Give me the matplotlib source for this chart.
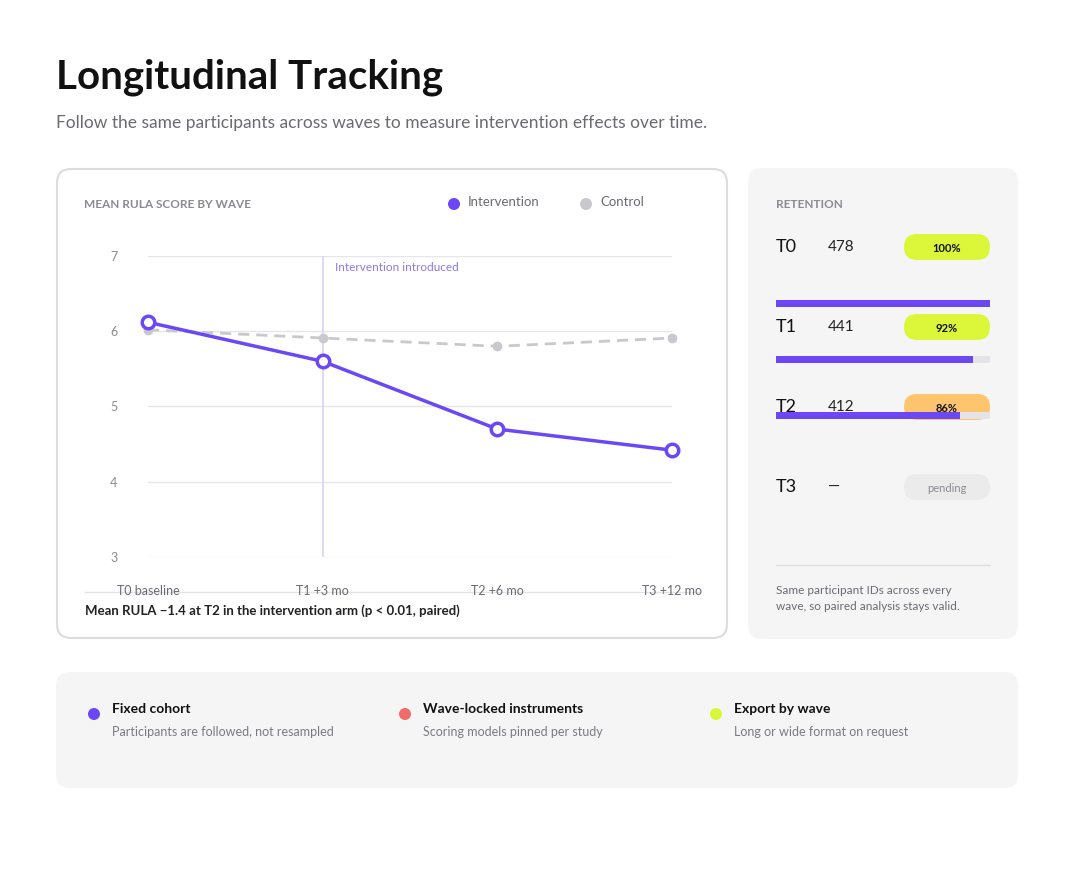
import matplotlib
matplotlib.use("Agg")
import matplotlib.pyplot as plt
from matplotlib.patches import FancyBboxPatch, Ellipse

W, H = 1074, 876

waves = ["T0 baseline", "T1 +3 mo", "T2 +6 mo", "T3 +12 mo"]
intervention = [6.12, 5.6, 4.7, 4.42]
control = [6.02, 5.91, 5.8, 5.91]

ret_waves = ["T0", "T1", "T2", "T3"]
ret_counts = ["478", "441", "412", "—"]
ret_pct = [100, 92, 86, None]
ret_labels = ["100%", "92%", "86%", "pending"]

features = [
    ("Fixed cohort", "Participants are followed, not resampled", "#6b47f5"),
    ("Wave-locked instruments", "Scoring models pinned per study", "#f26b6b"),
    ("Export by wave", "Long or wide format on request", "#d9f73a"),
]

PURPLE = "#6b47f5"
GREY = "#c9c8ce"
plt.rcParams["font.family"] = ["Lato", "DejaVu Sans"]


def fx(x):
    return x / W


def fy(y):
    return 1 - y / H


def card(fig, x0, y0, x1, y1, fc, ec="none", lw=0, r=14):
    p = FancyBboxPatch((fx(x0), fy(y1)), fx(x1 - x0), (y1 - y0) / H,
                       boxstyle=f"round,pad=0,rounding_size={r / W}",
                       transform=fig.transFigure, fc=fc, ec=ec, lw=lw, zorder=-5,
                       mutation_aspect=W / H)
    fig.patches.append(p)


def pill(fig, x0, y0, x1, y1, fc):
    p = FancyBboxPatch((fx(x0), fy(y1)), fx(x1 - x0), (y1 - y0) / H,
                       boxstyle=f"round,pad=0,rounding_size={(y1 - y0) / 2 / W}",
                       transform=fig.transFigure, fc=fc, ec="none", zorder=-4,
                       mutation_aspect=W / H)
    fig.patches.append(p)


def dot(fig, x, y, col):
    fig.patches.append(Ellipse((fx(x), fy(y)), 12 / W, 12 / H,
                               transform=fig.transFigure, fc=col, ec="none", zorder=-3))


fig = plt.figure(figsize=(W / 100, H / 100), dpi=100)
fig.patch.set_facecolor("white")

fig.text(fx(56), fy(77), "Longitudinal Tracking", fontsize=29, fontweight="bold",
         color="#111111", va="center")
fig.text(fx(56), fy(123), "Follow the same participants across waves to measure intervention effects over time.",
         fontsize=12.5, color="#6a6a72", va="center")

# chart card
card(fig, 57, 169, 727, 638, "white", ec="#dcdce0", lw=1.5)
fig.text(fx(84), fy(204), "MEAN RULA SCORE BY WAVE", fontsize=8.5, color="#8a8a92",
         fontweight="bold", va="center")
dot(fig, 454, 204, PURPLE)
fig.text(fx(468), fy(202), "Intervention", fontsize=9.5, color="#6a6a72", va="center")
dot(fig, 586, 204, GREY)
fig.text(fx(600), fy(202), "Control", fontsize=9.5, color="#6a6a72", va="center")

ax = fig.add_axes([fx(148), fy(557), fx(672 - 148), (557 - 256) / H])
ax.set_zorder(2)
ax.set_xlim(0, 3)
ax.set_ylim(3, 7)
for s in ax.spines.values():
    s.set_visible(False)
ax.set_facecolor("none")
ax.set_yticks([3, 4, 5, 6, 7])
ax.grid(axis="y", color="#e6e6ea", lw=1)
ax.set_axisbelow(True)
ax.tick_params(axis="y", length=0, labelsize=9, labelcolor="#8a8a92", pad=22)
ax.set_xticks(range(4))
ax.set_xticklabels(waves)
ax.tick_params(axis="x", length=0, labelsize=9, labelcolor="#6a6a72", pad=20)
ax.axvline(1, color="#d8d2f5", lw=1.2)
ax.text(1.07, 6.85, "Intervention introduced", fontsize=8.5, color="#8d78e8", va="center")
ax.plot(range(4), control, color=GREY, lw=2, ls=(0, (4, 2.5)), marker="o", ms=6,
        mfc=GREY, mec=GREY, zorder=3, clip_on=False)
ax.plot(range(4), intervention, color=PURPLE, lw=2.5, marker="o", ms=9,
        mfc="white", mec=PURPLE, mew=2.5, zorder=4, clip_on=False)

fig.add_artist(plt.Line2D([fx(85), fx(700)], [fy(592), fy(592)], color="#e3e3e7", lw=1,
                          transform=fig.transFigure))
fig.text(fx(85), fy(611), "Mean RULA −1.4 at T2 in the intervention arm (p < 0.01, paired)",
         fontsize=9.5, fontweight="bold", color="#222222", va="center")

# retention card
card(fig, 748, 168, 1018, 639, "#f5f5f5")
fig.text(fx(776), fy(204), "RETENTION", fontsize=8.5, fontweight="bold", color="#8a8a92",
         va="center")
pill_colors = ["#dcf73a", "#dcf73a", "#ffc56e", "#ebebeb"]
for i, (w, c, lab) in enumerate(zip(ret_waves, ret_counts, ret_labels)):
    yc = 247 + 80 * i
    fig.text(fx(776), fy(yc), w, fontsize=13, color="#111111", va="center")
    fig.text(fx(828), fy(yc), c, fontsize=11, color="#222222", va="center")
    pill(fig, 904, yc - 13, 990, yc + 13, pill_colors[i])
    fig.text(fx(947), fy(yc + 1), lab, fontsize=8, ha="center", va="center",
             fontweight="bold" if ret_pct[i] else "normal",
             color="#111111" if ret_pct[i] else "#8a8a92")

bx = fig.add_axes([fx(776), fy(444), fx(990 - 776), (444 - 275) / H])
bx.set_zorder(2)
bx.set_xlim(0, 100)
bx.set_ylim(2.5, -0.5)
bx.axis("off")
for i, p in enumerate(ret_pct[:3]):
    bx.barh(i, 100, height=0.13, color="#e4e4e8")
    bx.barh(i, p, height=0.13, color=PURPLE)

fig.add_artist(plt.Line2D([fx(776), fx(990)], [fy(565), fy(565)], color="#dedede", lw=1,
                          transform=fig.transFigure))
fig.text(fx(776), fy(590), "Same participant IDs across every", fontsize=8.5,
         color="#6a6a72", va="center")
fig.text(fx(776), fy(607), "wave, so paired analysis stays valid.", fontsize=8.5,
         color="#6a6a72", va="center")

# feature card
card(fig, 56, 672, 1018, 788, "#f5f5f5")
for i, (t, sub, col) in enumerate(features):
    x = 94 + 311 * i
    dot(fig, x, 714, col)
    fig.text(fx(x + 18), fy(709), t, fontsize=10, fontweight="bold", color="#111111",
             va="center")
    fig.text(fx(x + 18), fy(732), sub, fontsize=9, color="#7a7a82", va="center")

fig.savefig("out.png", dpi=100)
